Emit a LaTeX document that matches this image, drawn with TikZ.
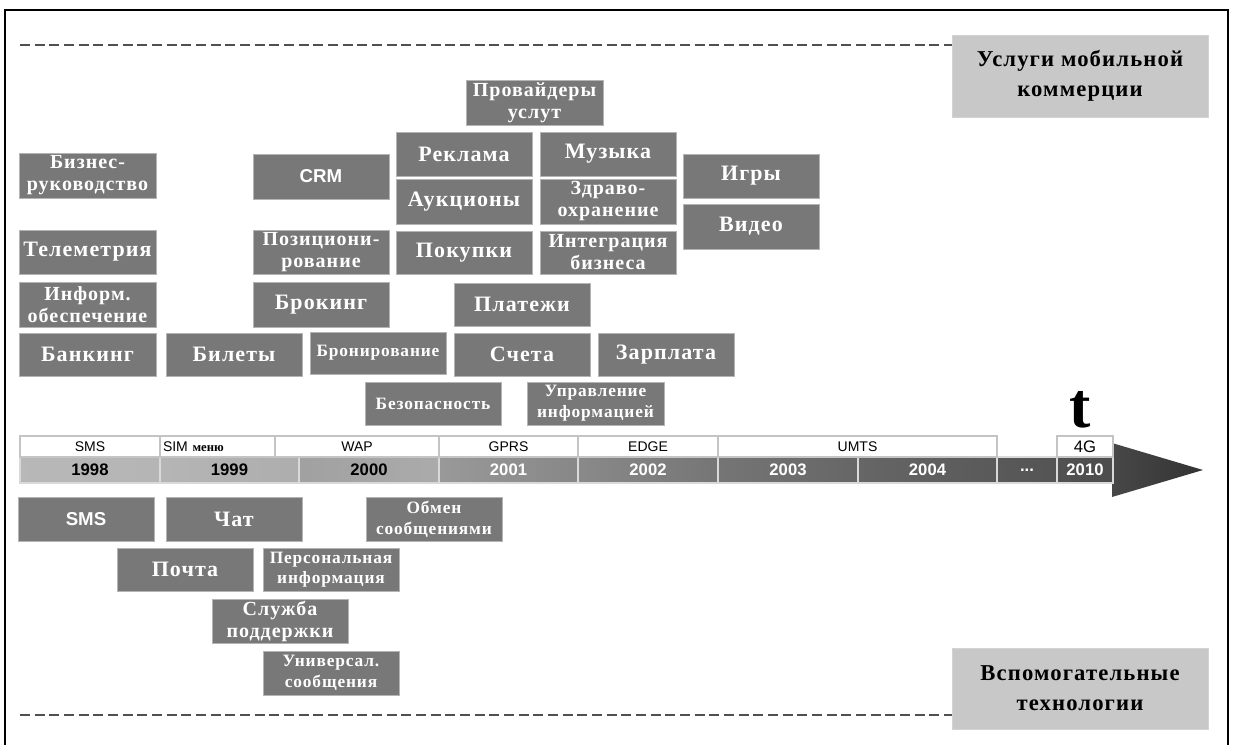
\documentclass[tikz,border=0pt]{standalone}
\usepackage{fontspec}
\setmainfont{Liberation Serif}
\setsansfont{Liberation Sans}
\newfontfamily\tilefont[LetterSpace=5]{Liberation Serif}
\definecolor{tilegray}{HTML}{787878}
\definecolor{tileedge}{HTML}{B4B4B4}
\definecolor{labelgray}{HTML}{C8C8C8}
\definecolor{guidegray}{HTML}{505050}
\definecolor{celledge}{HTML}{C4C4C4}

% tile: #1 extra style, #2 name, #3 x1, #4 y1, #5 x2, #6 y2, #7 text
\newcommand{\mtile}[7][]{%
  \node[tile,minimum width={(#5-#3)*0.75pt},minimum height={(#6-#4)*0.75pt},#1]
    (#2) at ({(#3+#5)/2},{(#4+#6)/2}) {#7};}
% year cell: #1 name, #2 x1, #3 x2, #4 left colour, #5 right colour, #6 text, #7 text colour
\newcommand{\ycell}[7]{%
  \node[yearcell,left color=#4,right color=#5,text=#7,minimum width={(#3-#2)*0.75pt}]
    (#1) at ({(#2+#3)/2},470) {#6};}
% technology cell: #1 name, #2 x1, #3 x2, #4 text
\newcommand{\tcell}[4]{%
  \node[techcell,minimum width={(#3-#2)*0.75pt}] (#1) at ({(#2+#3)/2},446.5) {#4};}

\begin{document}
\begin{tikzpicture}[x=0.75pt,y=-0.75pt,
  tile/.style={fill=tilegray,draw=tileedge,line width=0.6pt,text=white,inner sep=0pt,
    align=center,font=\tilefont\bfseries\fontsize{16.5}{18}\selectfont},
  twoline/.style={font=\tilefont\bfseries\fontsize{15}{16.5}\selectfont},
  smalltext/.style={font=\tilefont\bfseries\fontsize{13}{15.5}\selectfont},
  sanstext/.style={font=\sffamily\bfseries\fontsize{14}{15}\selectfont},
  corner/.style={tile,fill=labelgray,draw=labelgray!80!white,text=black,
    font=\tilefont\bfseries\fontsize{17}{22.5}\selectfont},
  yearcell/.style={draw=white!85!black,line width=0.8pt,inner sep=0pt,
    minimum height={26*0.75pt},font=\sffamily\bfseries\fontsize{12.5}{14}\selectfont},
  techcell/.style={draw=celledge,fill=white,line width=0.8pt,inner sep=0pt,
    minimum height={21*0.75pt},font=\sffamily\fontsize{10.5}{12}\selectfont},
  frameline/.style={line width=2.2pt,black},
  guide/.style={guidegray,line width=1.6pt,dash pattern=on 7.5pt off 3.5pt}
]
\useasboundingbox (0,0) rectangle (1234,745);

% outer frame
\draw[frameline] (5,745) -- (5,10) -- (1228,10) -- (1228,745);

% category labels
\mtile[corner]{mcomm}{952}{35}{1208}{117}{Услуги мобильной\\коммерции}
\mtile[corner]{suppt}{952}{648}{1208}{729}{Вспомогательные\\технологии}

% dashed guides running into the labels
\coordinate (topguide) at (20,45);
\coordinate (botguide) at (20,715);
\draw[guide] (topguide) -- (topguide -| mcomm.west);
\draw[guide] (botguide) -- (botguide -| suppt.west);

% mobile commerce services
\mtile[twoline]{prov}{466}{80}{603}{125}{Провайдеры\\услут}
\mtile{reklama}{396}{132}{532}{176}{Реклама}
\mtile{muzyka}{540}{132}{676}{176}{Музыка}
\mtile[twoline]{biz}{19}{153}{156}{198}{Бизнес-\\руководство}
\mtile[sanstext]{crm}{253}{154}{389}{199}{CRM}
\mtile{igry}{683}{154}{819}{198}{Игры}
\mtile{auk}{396}{179}{532}{224}{Аукционы}
\mtile[twoline]{zdrav}{540}{179}{676}{224}{Здраво-\\охранение}
\mtile{video}{683}{204}{819}{249}{Видео}
\mtile{telem}{19}{230}{156}{274}{Телеметрия}
\mtile[twoline]{pozic}{253}{230}{389}{274}{Позициони-\\рование}
\mtile{pokup}{396}{231}{532}{274}{Покупки}
\mtile[twoline]{integr}{540}{231}{676}{274}{Интеграция\\бизнеса}
\mtile[twoline]{inform}{19}{282}{156}{327}{Информ.\\обеспечение}
\mtile{brok}{253}{282}{389}{327}{Брокинг}
\mtile{plat}{454}{283}{590}{326}{Платежи}
\mtile{bank}{19}{333}{156}{376}{Банкинг}
\mtile{bilet}{166}{333}{302}{376}{Билеты}
\mtile[smalltext]{bron}{310}{332}{446}{374}{Бронирование}
\mtile{scheta}{454}{333}{590}{376}{Счета}
\mtile{zarp}{598}{333}{734}{376}{Зарплата}
\mtile[smalltext]{bezop}{365}{382}{501}{425}{Безопасность}
\mtile[smalltext]{uprav}{527}{382}{664}{425}{Управление\\информацией}

% supporting technologies
\mtile[sanstext]{sms}{18}{497}{154}{541}{SMS}
\mtile{chat}{166}{497}{302}{541}{Чат}
\mtile[smalltext]{obmen}{366}{497}{502}{541}{Обмен\\сообщениями}
\mtile{pochta}{117}{548}{253}{591}{Почта}
\mtile[smalltext]{pers}{263}{548}{399}{591}{Персональная\\информация}
\mtile[twoline]{sluzh}{212}{599}{348}{643}{Служба\\поддержки}
\mtile[smalltext]{univ}{263}{651}{399}{695}{Универсал.\\сообщения}

% time axis: arrow head
\shade[left color=black!72,right color=black!80]
  (1112,443) -- (1203,470) -- (1112,497) -- cycle;

% time axis: years
\ycell{y1998}{20}{160}{black!28}{black!29}{1998}{black}
\ycell{y1999}{160}{299}{black!29}{black!32}{1999}{black}
\ycell{y2000}{299}{439}{black!37}{black!33}{2000}{black}
\ycell{y2001}{439}{578}{black!40}{black!47}{2001}{white}
\ycell{y2002}{578}{718}{black!46}{black!54}{2002}{white}
\ycell{y2003}{718}{858}{black!54}{black!60}{2003}{white}
\ycell{y2004}{858}{997}{black!60}{black!65}{2004}{white}
\ycell{ydots}{997}{1057}{black!65}{black!67}{...}{white}
\ycell{y2010}{1057}{1113}{black!68}{black!70}{2010}{white}

% time axis: technologies
\tcell{tsms}{20}{160}{SMS}
\node[techcell,minimum width={(275-160)*0.75pt},text width={(275-166)*0.75pt},align=left]
  (tsim) at ({(160+275)/2},446.5) {SIM {\rmfamily\bfseries\fontsize{9.5}{11}\selectfont меню}};
\tcell{twap}{275}{439}{WAP}
\tcell{tgprs}{439}{578}{GPRS}
\tcell{tedge}{578}{718}{EDGE}
\tcell{tumts}{718}{997}{UMTS}
\node[techcell,minimum width={(1113-1057)*0.75pt},font=\sffamily\fontsize{12.5}{13}\selectfont]
  (t4g) at ({(1057+1113)/2},446.5) {4G};

% axis letter
\node[anchor=south,inner sep=0pt,font=\rmfamily\bfseries\fontsize{48}{48}\selectfont]
  (tletter) at (1080,428) {t};
\end{tikzpicture}
\end{document}
